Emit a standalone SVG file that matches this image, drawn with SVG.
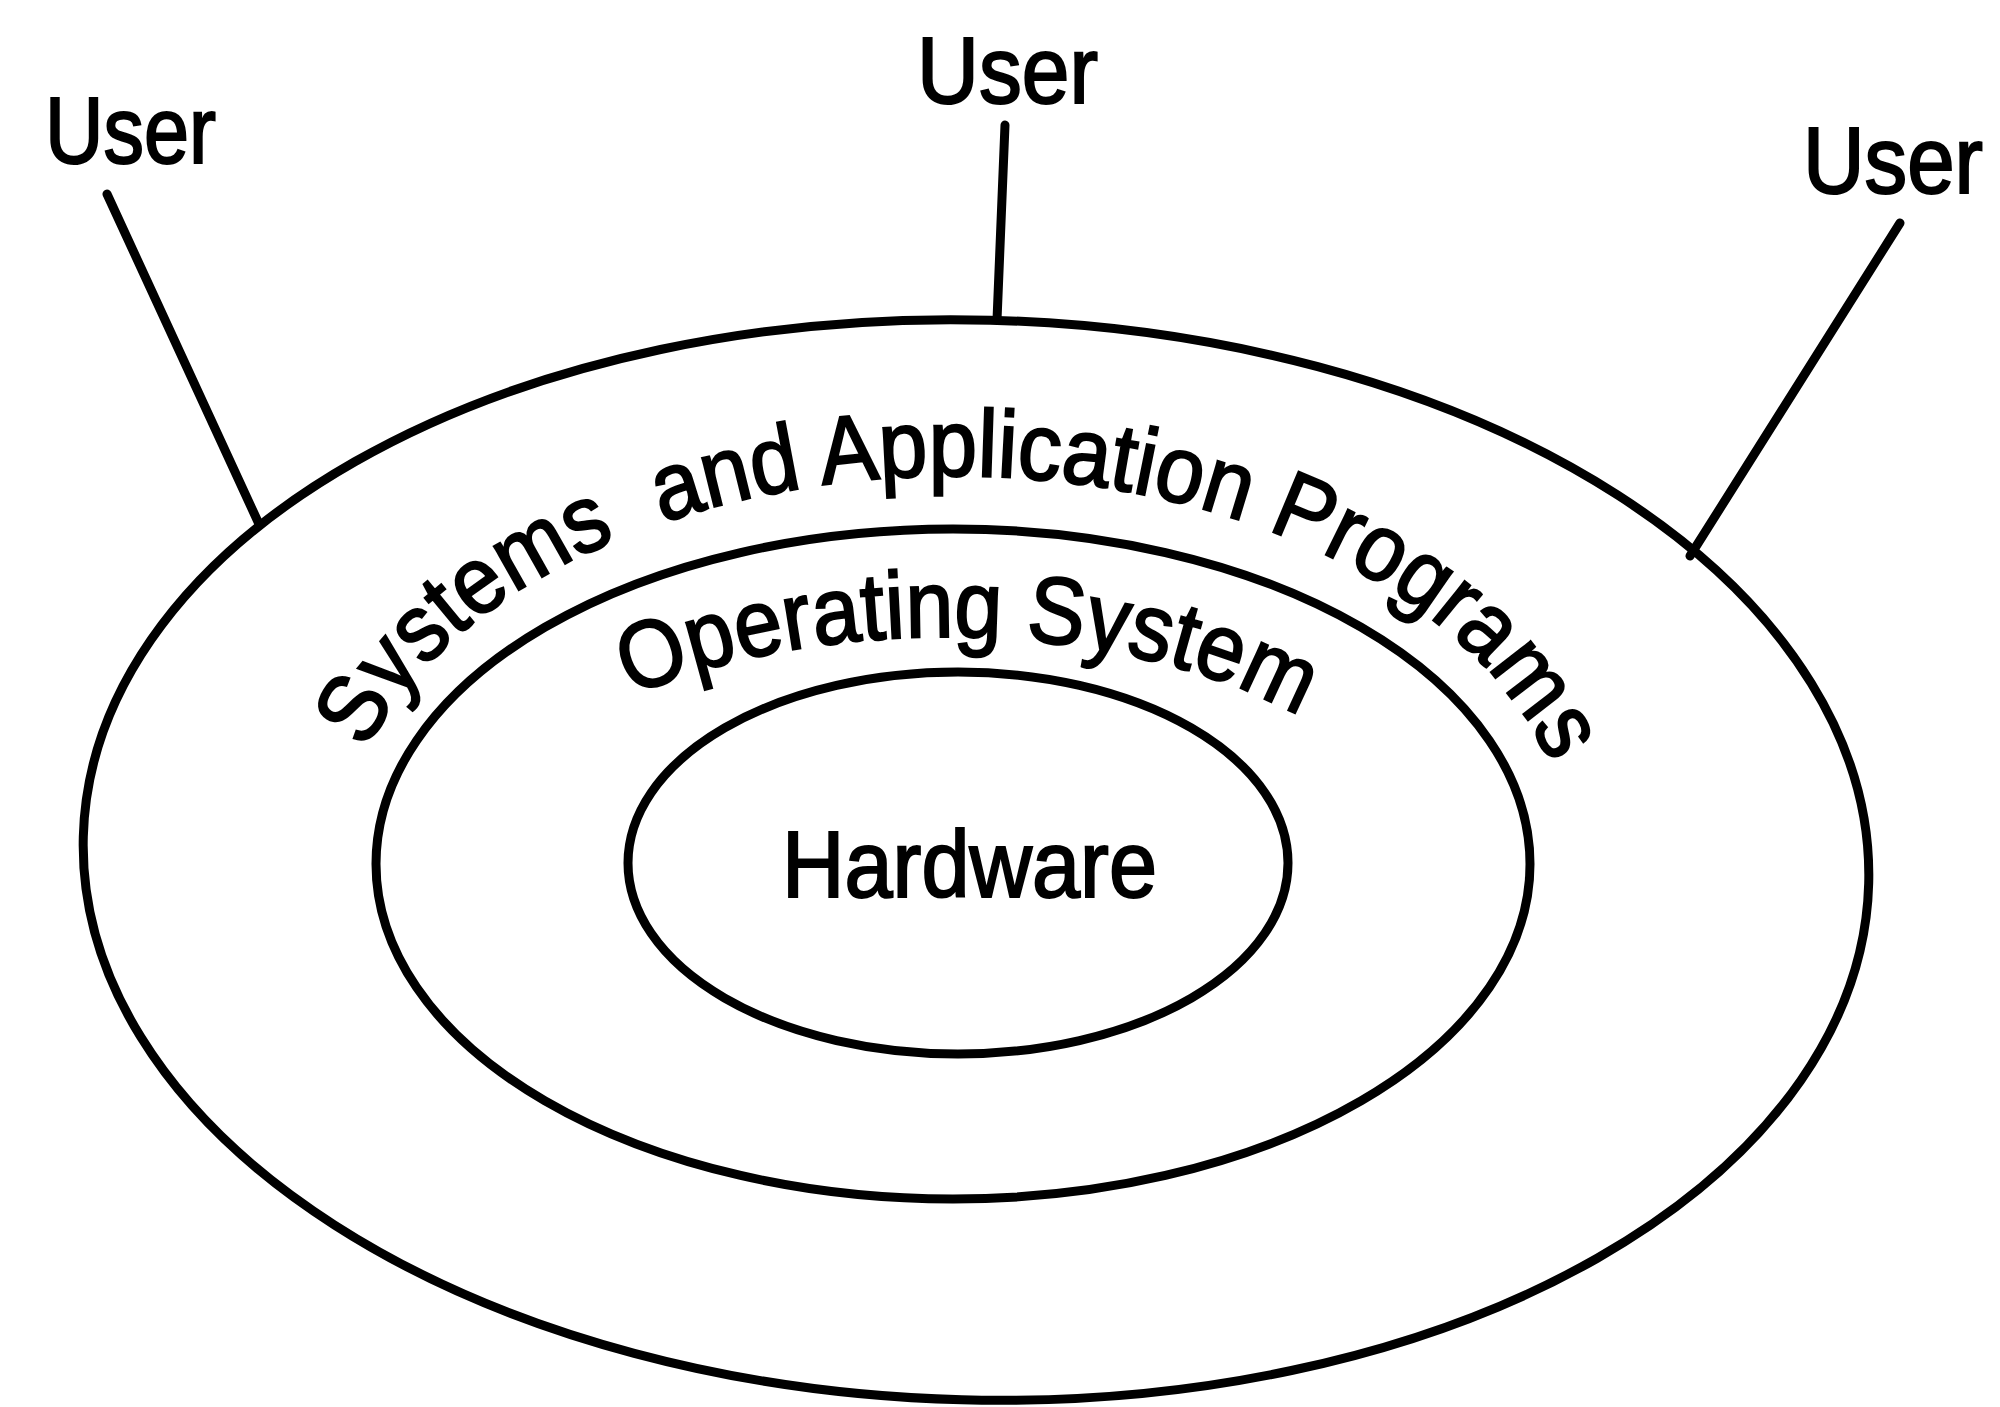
<svg xmlns="http://www.w3.org/2000/svg" width="2000" height="1407" viewBox="0 0 2000 1407">
<style>
.ring{fill:none;stroke:#000;stroke-width:9}
.conn{stroke:#000;stroke-width:9;stroke-linecap:round;fill:none}
.lbl{font-family:"Liberation Sans",Arial,sans-serif;font-size:95px;fill:#000;stroke:#000;stroke-width:2.2;white-space:pre}
</style>
<defs>
<path id="arcOuter" d="M 337 870 A 618 394 0 0 1 1573 870"/>
<path id="arcOS" d="M 466 880 A 479 243 0 0 1 1424 880"/>
</defs>
<rect width="2000" height="1407" fill="#fff"/>
<g id="connectors">
<line class="conn" x1="107" y1="194" x2="259" y2="524"/>
<line class="conn" x1="1005" y1="125" x2="997" y2="320"/>
<line class="conn" x1="1900" y1="223" x2="1690" y2="556"/>
</g>
<g id="apps">
<ellipse class="ring" cx="976" cy="860" rx="893" ry="540" transform="rotate(1.5 976 860)"/>
<text class="lbl" xml:space="preserve"><textPath href="#arcOuter" startOffset="124" textLength="1376" lengthAdjust="spacingAndGlyphs">Systems  and Application Programs</textPath></text>
</g>
<g id="os">
<ellipse class="ring" cx="953" cy="864" rx="577" ry="335"/>
<text class="lbl"><textPath href="#arcOS" startOffset="261" textLength="688" lengthAdjust="spacingAndGlyphs">Operating System</textPath></text>
</g>
<g id="hardware">
<ellipse class="ring" cx="958" cy="863" rx="330" ry="191"/>
<text class="lbl" x="782" y="897" font-size="100" textLength="375" lengthAdjust="spacingAndGlyphs">Hardware</text>
</g>
<g id="user-left"><text class="lbl" x="45" y="163" textLength="171" lengthAdjust="spacingAndGlyphs">User</text></g>
<g id="user-mid"><text class="lbl" x="917" y="103" textLength="181" lengthAdjust="spacingAndGlyphs">User</text></g>
<g id="user-right"><text class="lbl" x="1803" y="193" textLength="180" lengthAdjust="spacingAndGlyphs">User</text></g>
</svg>
